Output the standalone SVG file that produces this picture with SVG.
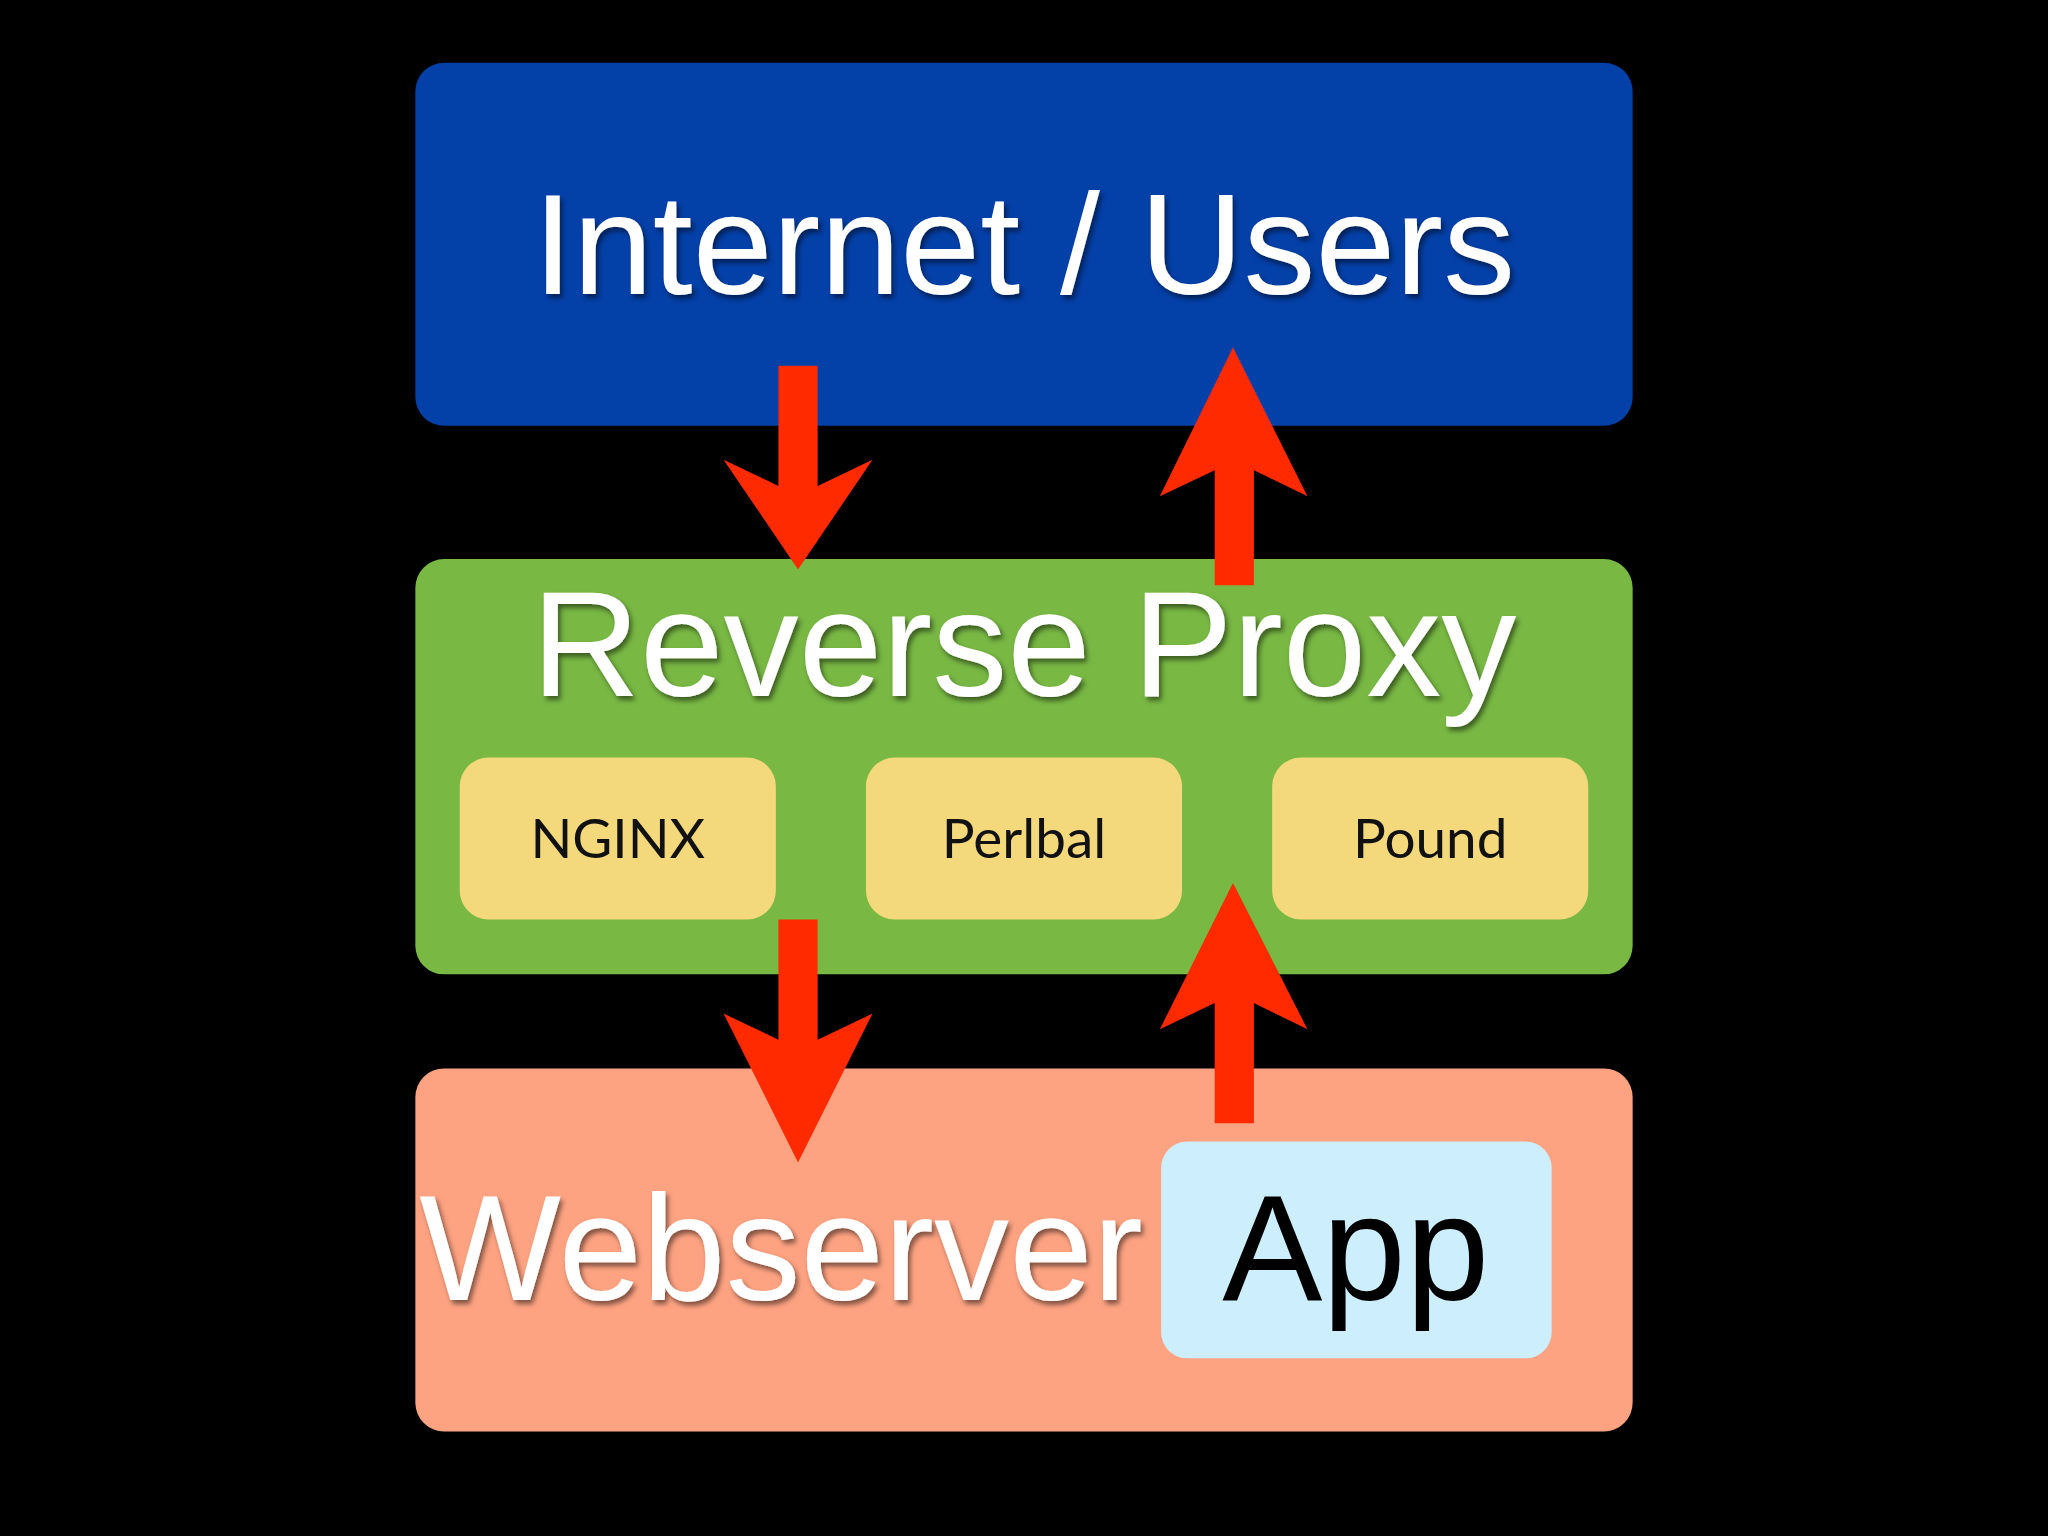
<svg xmlns="http://www.w3.org/2000/svg" width="2048" height="1536" viewBox="0 0 2048 1536">
<defs>
<style>
.big{font-family:"Liberation Sans",Arial,sans-serif;fill:#fff;text-anchor:middle}
.sm{font-family:"Lato","Liberation Sans",sans-serif;font-size:42px;fill:#111;text-anchor:middle}
.arrow{fill:#ff2a00}
.yel{fill:#f4d97c}
</style>
<filter id="sh" x="-5%" y="-5%" width="110%" height="120%"><feDropShadow dx="2" dy="3" stdDeviation="2" flood-color="#000" flood-opacity="0.5"/></filter>
</defs>
<rect width="2048" height="1536" fill="#000"/>
<g transform="scale(1.30612)">
<g id="internet"><rect x="318" y="48" width="932" height="278" rx="22" fill="#0340a8"/><text class="big" x="784" y="225" font-size="110" filter="url(#sh)">Internet / Users</text></g>
<g id="proxy"><rect x="318" y="428" width="932" height="318" rx="22" fill="#78b843"/><text class="big" x="784" y="533" font-size="115" filter="url(#sh)">Reverse Proxy</text></g>
<g id="nginx"><rect class="yel" x="352" y="580" width="242" height="124" rx="22"/><text class="sm" x="473" y="657">NGINX</text></g>
<g id="perlbal"><rect class="yel" x="663" y="580" width="242" height="124" rx="22"/><text class="sm" x="784" y="657">Perlbal</text></g>
<g id="pound"><rect class="yel" x="974" y="580" width="242" height="124" rx="22"/><text class="sm" x="1095" y="657">Pound</text></g>
<g id="webserver"><rect x="318" y="818" width="932" height="278" rx="22" fill="#fea382"/><text class="big" x="598" y="995" font-size="115" filter="url(#sh)">Webserver</text></g>
<g id="app"><rect x="889" y="874" width="299" height="166" rx="20" fill="#cdeffd"/><text class="big" x="1038" y="995" font-size="115" style="fill:#000">App</text></g>
<g id="connectors">
<polygon class="arrow" points="596,280 626,280 626,372 668,352 611,436 554,352 596,372"/>
<polygon class="arrow" points="944,266 1001,380 960,360 960,448 930,448 930,360 888,380"/>
<polygon class="arrow" points="596,704 626,704 626,796 668,776 611,890 554,776 596,796"/>
<polygon class="arrow" points="944,676 1001,788 960,768 960,860 930,860 930,768 888,788"/>
</g>
</g>
</svg>
